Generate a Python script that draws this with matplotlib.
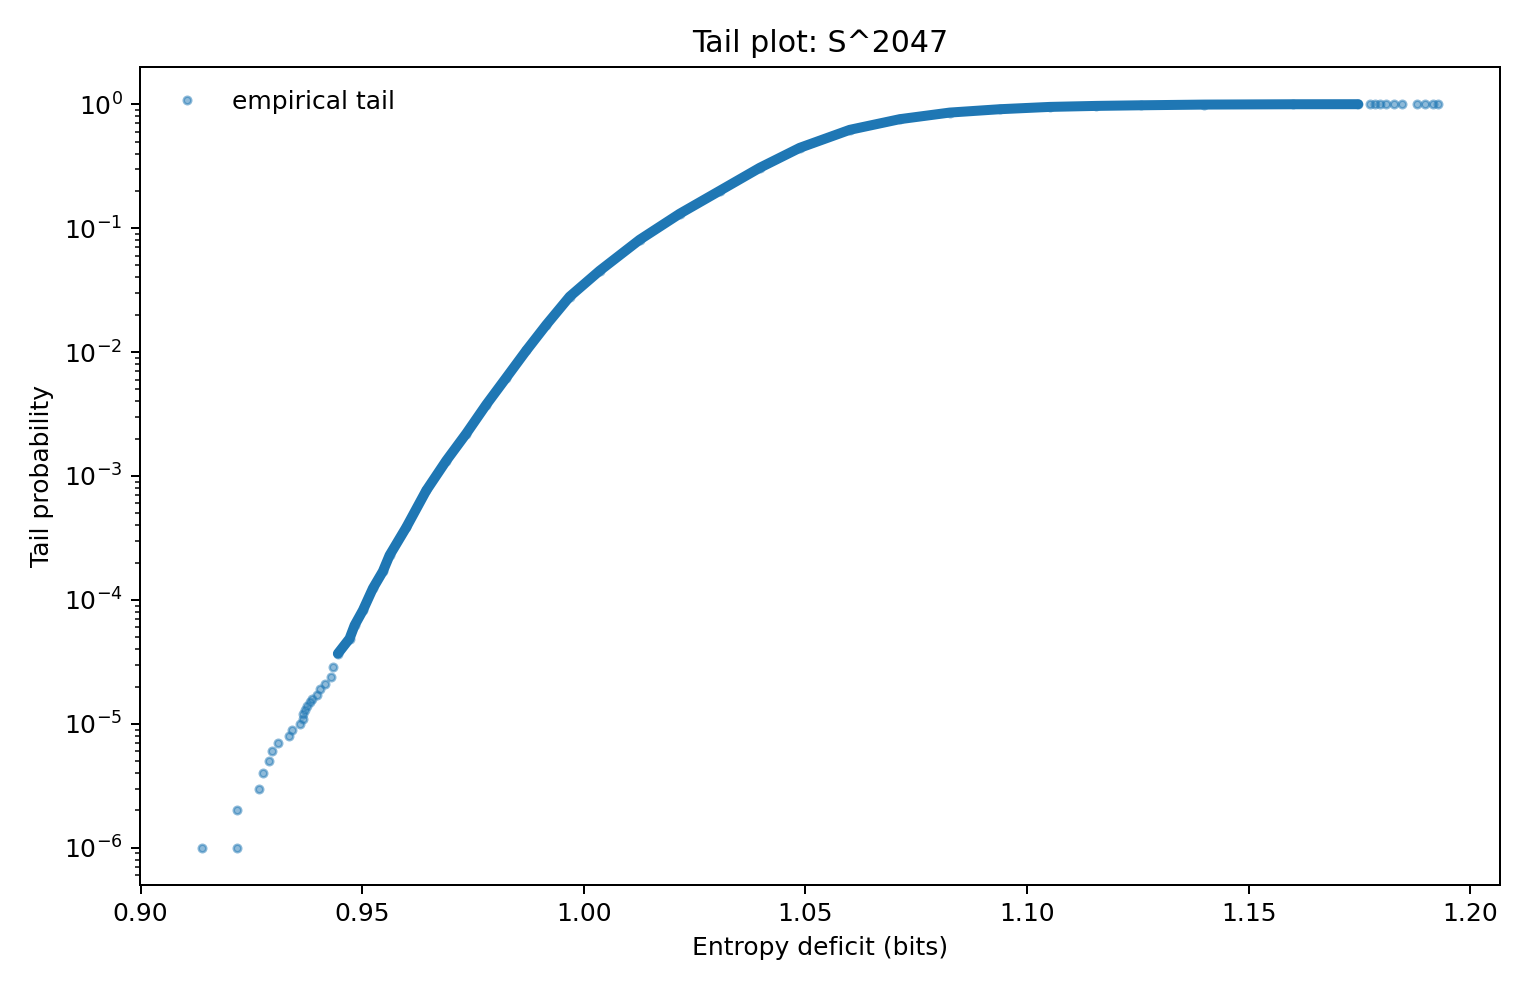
import numpy as np
import matplotlib
matplotlib.use("Agg")
import matplotlib.pyplot as plt

# sparse lower tail points
x_low = [0.91383, 0.92182, 0.92182, 0.92679, 0.92760, 0.92905, 0.92963, 0.93108,
         0.93347, 0.93415, 0.93595, 0.93663, 0.93663, 0.93717, 0.93746, 0.93814,
         0.93866, 0.93979, 0.94040, 0.94153, 0.94290, 0.94340]
y_low = [1e-6, 1e-6, 2e-6, 3e-6, 4e-6, 5e-6, 6e-6, 7e-6,
         8e-6, 9e-6, 1.0e-5, 1.1e-5, 1.2e-5, 1.3e-5, 1.4e-5, 1.5e-5,
         1.6e-5, 1.7e-5, 1.9e-5, 2.1e-5, 2.4e-5, 2.9e-5]

# dense body of the empirical tail
x_body = [0.94453, 0.94717, 0.94830, 0.95017, 0.95243, 0.95468, 0.95619, 0.95996,
          0.96448, 0.96899, 0.97350, 0.97802, 0.98253, 0.98705, 0.99156, 0.99682,
          1.00359, 1.01262, 1.02164, 1.03067, 1.03970, 1.04873, 1.06001, 1.07129,
          1.08258, 1.09386, 1.10515, 1.11568, 1.12570, 1.14000, 1.16000, 1.17473]
y_body = [3.69e-5, 4.88e-5, 6.24e-5, 8.24e-5, 1.24e-4, 1.70e-4, 2.29e-4, 3.85e-4,
          7.64e-4, 1.33e-3, 2.20e-3, 3.77e-3, 6.22e-3, 1.03e-2, 1.66e-2, 2.80e-2,
          4.53e-2, 8.06e-2, 0.1306, 0.2000, 0.3066, 0.4444, 0.621, 0.757,
          0.856, 0.911, 0.951, 0.969, 0.980, 0.993, 0.999, 0.99995]

# sparse upper end
x_high = [1.17736, 1.17849, 1.17962, 1.18112, 1.18285, 1.18465,
          1.18790, 1.18978, 1.19166, 1.19279]
y_high = [0.99996, 0.99997, 0.99998, 0.99999, 0.999993, 0.999995,
          0.999996, 0.999997, 0.999998, 1.0]

fig, ax = plt.subplots(figsize=(8.5, 5.5), dpi=180)
fig.subplots_adjust(left=0.0915, right=0.9804, top=0.9323, bottom=0.1061)

# the dense part: markers overlap into a solid band
ax.plot(x_body, y_body, "-", color="C0", lw=4, solid_capstyle="round")
ax.plot(x_low + x_body + x_high, y_low + y_body + y_high, "o",
        color="C0", markersize=3, alpha=0.5, label="empirical tail")
ax.set_yscale("log")
ax.set_title("Tail plot: S^2047")
ax.set_xlabel("Entropy deficit (bits)")
ax.set_ylabel("Tail probability")
ax.legend(loc="upper left", frameon=False)

fig.savefig("out.png", dpi=180)
